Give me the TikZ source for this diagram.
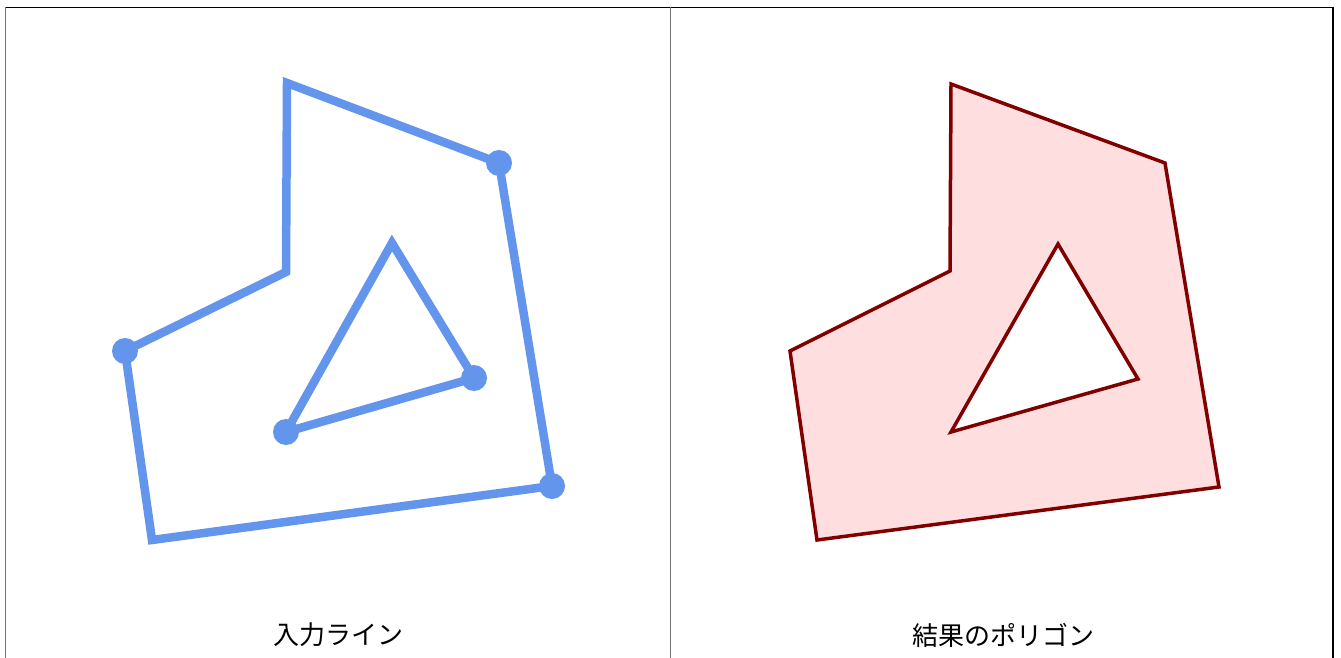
\documentclass[tikz,border=0pt]{standalone}
\usepackage{fontspec}
\newfontfamily\cjk{Noto Sans CJK JP}
\definecolor{lineblue}{HTML}{6495ED}
\definecolor{polyred}{HTML}{800000}
\definecolor{polyfill}{HTML}{FFDEDF}
\begin{document}
\begin{tikzpicture}[x=1pt,y=-1pt,
  inputline/.style={draw=lineblue,line width=8.5pt,line join=miter},
  vdot/.style={circle,fill=lineblue,inner sep=0pt,minimum size=26pt},
  resultpoly/.style={draw=polyred,fill=polyfill,line width=3.5pt,line join=miter,even odd rule},
  caption/.style={font=\cjk\fontsize{26}{30}\selectfont,text=black,anchor=center},
  frame/.style={line width=1.4pt}]
\useasboundingbox (0,0) rectangle (1341,658);
% frame
\draw[frame,black] (5,7.5) -- (1333,7.5);
\draw[frame,black!55] (5.5,7) -- (5.5,658);
\draw[frame,black!55] (670.5,7) -- (670.5,658);
\draw[frame,black] (1333,7) -- (1333,658);
% left: input lines
\coordinate (a1) at (287,83);
\coordinate (a2) at (499,163);
\coordinate (a3) at (552,486);
\coordinate (a4) at (152,540);
\coordinate (a5) at (125,351);
\coordinate (a6) at (286,272);
\coordinate (b1) at (392,243);
\coordinate (b2) at (474,378);
\coordinate (b3) at (286,432);
\draw[inputline] (a1) -- (a2) -- (a3) -- (a4) -- (a5) -- (a6) -- cycle;
\draw[inputline] (b1) -- (b2) -- (b3) -- cycle;
\node[vdot] (d1) at (a2) {};
\node[vdot] (d2) at (a3) {};
\node[vdot] (d3) at (a5) {};
\node[vdot] (d4) at (b2) {};
\node[vdot] (d5) at (b3) {};
% right: result polygon
\coordinate (c1) at (951,84);
\coordinate (c2) at (1165,163);
\coordinate (c3) at (1219,487);
\coordinate (c4) at (817,540);
\coordinate (c5) at (790,351);
\coordinate (c6) at (950,271);
\coordinate (e1) at (1058,244);
\coordinate (e2) at (1138,379);
\coordinate (e3) at (951,432);
\draw[resultpoly] (c1) -- (c2) -- (c3) -- (c4) -- (c5) -- (c6) -- cycle
  (e1) -- (e2) -- (e3) -- cycle;
% captions
\node[caption] (t1) at (338,635) {入力ライン};
\node[caption] (t2) at (1003,635) {結果のポリゴン};
\end{tikzpicture}
\end{document}
